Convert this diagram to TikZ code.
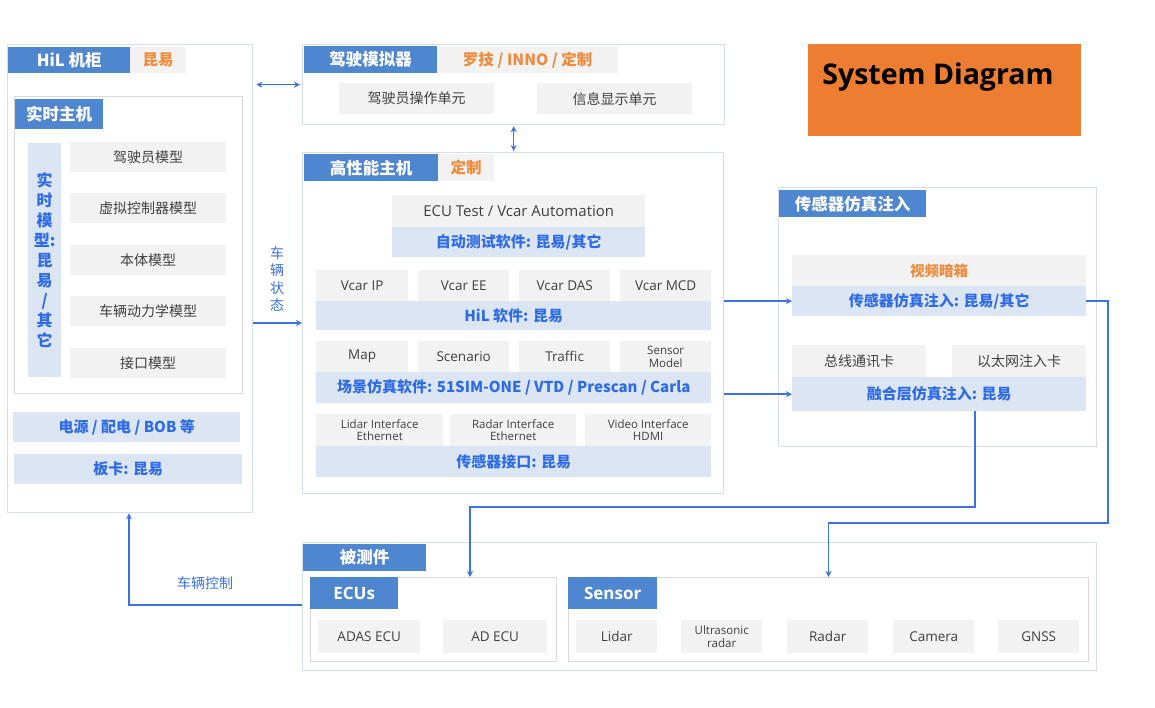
\documentclass[tikz,border=0pt]{standalone}
\usepackage{fontspec}
\setmainfont{Noto Sans CJK SC}
\newfontfamily\latinfont{Open Sans}
\usetikzlibrary{arrows.meta}

\definecolor{hdrblue}{RGB}{79,134,208}
\definecolor{tagorange}{RGB}{240,138,60}
\definecolor{tagbg}{RGB}{242,242,242}
\definecolor{cellgrey}{RGB}{242,242,242}
\definecolor{celltext}{RGB}{64,64,64}
\definecolor{barblue}{RGB}{220,229,243}
\definecolor{bartext}{RGB}{46,107,230}
\definecolor{linkblue}{RGB}{59,114,232}
\definecolor{framecol}{RGB}{214,222,236}
\definecolor{innerframe}{RGB}{217,217,217}
\definecolor{sysorange}{RGB}{237,125,49}

\tikzset{
  sz/.style 2 args={minimum width=#1, minimum height=#2},
  frame/.style={draw=framecol, line width=1.3pt, fill=white, anchor=north west, inner sep=0pt},
  inframe/.style={draw=innerframe, line width=1pt, fill=white, anchor=north west, inner sep=0pt},
  hdr/.style={fill=hdrblue, text=white, font=\fontsize{16.5}{19}\selectfont\bfseries, anchor=north west, inner sep=0pt},
  tag/.style={fill=tagbg, text=tagorange, font=\fontsize{15.5}{18}\selectfont\bfseries, anchor=north west, inner sep=0pt},
  cell/.style={fill=cellgrey, text=celltext, font=\fontsize{14}{16}\selectfont, anchor=north west, inner sep=0pt, align=center},
  lcell/.style={cell, font=\latinfont\fontsize{13.5}{16}\selectfont},
  smallcell/.style={cell, font=\latinfont\fontsize{11.5}{12.5}\selectfont},
  bar/.style={fill=barblue, text=bartext, font=\fontsize{15}{17}\selectfont\bfseries, anchor=north west, inner sep=0pt},
  link/.style={draw=linkblue, line width=1.6pt, -{Stealth[length=6pt,width=6pt]}},
  note/.style={text=linkblue, font=\fontsize{14}{17.5}\selectfont, align=center, inner sep=0pt},
}

\begin{document}
\begin{tikzpicture}[x=1pt, y=-1pt]
  \useasboundingbox[fill=white] (0,0) rectangle (1155,708);

  % HiL cabinet
  \node[frame, sz={245}{468}] (cab) at (7,44) {};
  \node[hdr, sz={122}{26}] (cabhdr) at (8,47) {HiL 机柜};
  \node[tag, sz={56}{26}] (cabtag) at (130,47) {昆易};
  \node[inframe, sz={228}{297}] (rth) at (14,96) {};
  \node[hdr, sz={88}{30}] (rthhdr) at (15,99) {实时主机};
  \node[fill=barblue, text=bartext, anchor=north west, inner sep=0pt, sz={33}{234}, align=center,
        font=\fontsize{16}{20}\selectfont\bfseries] (rtmodel) at (28,143)
        {实\\时\\模\\型:\\昆\\易\\/\\其\\它};
  \node[cell, sz={156}{30}] (drvmodel) at (70,142) {驾驶员模型};
  \node[cell, sz={156}{30}] (ctrlmodel) at (70,193) {虚拟控制器模型};
  \node[cell, sz={156}{30}] (bodymodel) at (70,245) {本体模型};
  \node[cell, sz={156}{30}] (dynmodel) at (70,296) {车辆动力学模型};
  \node[cell, sz={156}{30}] (ifmodel) at (70,348) {接口模型};
  \node[bar, sz={227}{30}] (power) at (13,412) {电源 / 配电 / BOB 等};
  \node[bar, sz={228}{30}] (board) at (14,454) {板卡: 昆易};

  % driving simulator
  \node[frame, sz={422}{80}] (sim) at (302,44) {};
  \node[hdr, sz={133}{27}] (simhdr) at (304,46) {驾驶模拟器};
  \node[tag, sz={181}{27}] (simtag) at (437,46) {罗技 / INNO / 定制};
  \node[cell, sz={155}{31}] (opunit) at (339,83) {驾驶员操作单元};
  \node[cell, sz={155}{31}] (dispunit) at (537,83) {信息显示单元};

  % high performance host
  \node[frame, sz={421}{341}] (hpc) at (302,152) {};
  \node[hdr, sz={134}{27}] (hpchdr) at (304,154) {高性能主机};
  \node[tag, sz={56}{27}] (hpctag) at (438,154) {定制};
  \node[lcell, sz={253}{32}, font=\latinfont\fontsize{15}{17}\selectfont] (ecutest) at (392,195) {ECU Test / Vcar Automation};
  \node[bar, sz={253}{30}] (autobar) at (392,227) {自动测试软件: 昆易/其它};
  \node[lcell, sz={92}{31}] (vip) at (316,270) {Vcar IP};
  \node[lcell, sz={91}{31}] (vee) at (418,270) {Vcar EE};
  \node[lcell, sz={91}{31}] (vdas) at (519,270) {Vcar DAS};
  \node[lcell, sz={91}{31}] (vmcd) at (620,270) {Vcar MCD};
  \node[bar, sz={395}{29}] (hilbar) at (316,301) {HiL 软件: 昆易};
  \node[lcell, sz={92}{31}] (map) at (316,341) {Map};
  \node[lcell, sz={91}{31}] (scen) at (418,341) {Scenario};
  \node[lcell, sz={91}{31}] (traffic) at (519,341) {Traffic};
  \node[smallcell, sz={91}{31}] (senmodel) at (620,341) {Sensor\\Model};
  \node[bar, sz={395}{31}] (scenbar) at (316,372) {场景仿真软件: 51SIM-ONE / VTD / Prescan / Carla};
  \node[smallcell, sz={127}{32}] (lidarif) at (316,414) {Lidar Interface\\Ethernet};
  \node[smallcell, sz={126}{32}] (radarif) at (450,414) {Radar Interface\\Ethernet};
  \node[smallcell, sz={126}{32}] (videoif) at (585,414) {Video Interface\\HDMI};
  \node[bar, sz={395}{31}] (ifbar) at (316,446) {传感器接口: 昆易};

  % sensor injection
  \node[frame, sz={318}{259}] (inj) at (778,187) {};
  \node[hdr, sz={147}{27}] (injhdr) at (779,190) {传感器仿真注入};
  \node[cell, sz={294}{31}, text=tagorange, font=\fontsize{14.5}{17}\selectfont\bfseries] (darkbox) at (792,255) {视频暗箱};
  \node[bar, sz={294}{30}] (injbar) at (792,286) {传感器仿真注入: 昆易/其它};
  \node[cell, sz={134}{32}] (buscard) at (792,345) {总线通讯卡};
  \node[cell, sz={134}{32}] (ethcard) at (952,345) {以太网注入卡};
  \node[bar, sz={294}{34}] (fusebar) at (792,377) {融合层仿真注入: 昆易};

  % device under test
  \node[frame, sz={794}{128}] (dut) at (302,542) {};
  \node[hdr, sz={123}{27}] (duthdr) at (303,544) {被测件};
  \node[inframe, sz={246}{84}] (ecus) at (310,577) {};
  \node[hdr, sz={88}{32}, font=\latinfont\fontsize{17}{19}\selectfont\bfseries] (ecushdr) at (310,577) {ECUs};
  \node[lcell, sz={102}{33}] (adas) at (318,620) {ADAS ECU};
  \node[lcell, sz={104}{33}] (adecu) at (443,620) {AD ECU};
  \node[inframe, sz={520}{84}] (sens) at (568,577) {};
  \node[hdr, sz={89}{32}, font=\latinfont\fontsize{17}{19}\selectfont\bfseries] (senshdr) at (568,577) {Sensor};
  \node[lcell, sz={81}{33}] (lidar) at (576,620) {Lidar};
  \node[smallcell, sz={81}{33}] (ultra) at (681,620) {Ultrasonic\\radar};
  \node[lcell, sz={81}{33}] (radar) at (787,620) {Radar};
  \node[lcell, sz={81}{33}] (camera) at (893,620) {Camera};
  \node[lcell, sz={81}{33}] (gnss) at (998,620) {GNSS};

  % title
  \node[fill=sysorange, anchor=north west, sz={273}{92}, inner sep=0pt] (title) at (808,44) {};
  \node[font=\latinfont\fontsize{28.5}{32}\selectfont\bfseries, inner sep=0pt] (titletext) at (938,77) {System Diagram};

  % connectors
  \coordinate (st) at (277,323);
  \coordinate (r1) at (1108,523);
  \coordinate (f1) at (975,507);
  \coordinate (f2) at (470,577);
  \coordinate (c1) at (129,605);
  \draw[link, {Stealth[length=6pt,width=6pt]}-{Stealth[length=6pt,width=6pt]}, shorten <=3pt, shorten >=2pt]
    (cab.east |- sim.west) -- (sim.west);
  \draw[link, {Stealth[length=6pt,width=6pt]}-{Stealth[length=6pt,width=6pt]}, shorten <=1pt, shorten >=1pt]
    (sim.south) -- (sim.south |- hpc.north);
  \draw[link] (cab.east |- st) -- (hpc.west |- st);
  \node[note] (stlabel) at (277,279) {车\\辆\\状\\态};
  \draw[link] (hpc.east |- injbar.west) -- (injbar.west);
  \draw[link] (hpc.east |- fusebar.west) -- (fusebar.west);
  \draw[link] (injbar.east) -| (r1) -| (sens.north);
  \draw[link] (fusebar.south -| f1) -- (f1) -| (f2);
  \draw[link] (dut.west |- c1) -| (cab.south -| c1);
  \node[note] (ctrllabel) at (205,583) {车辆控制};
\end{tikzpicture}
\end{document}
